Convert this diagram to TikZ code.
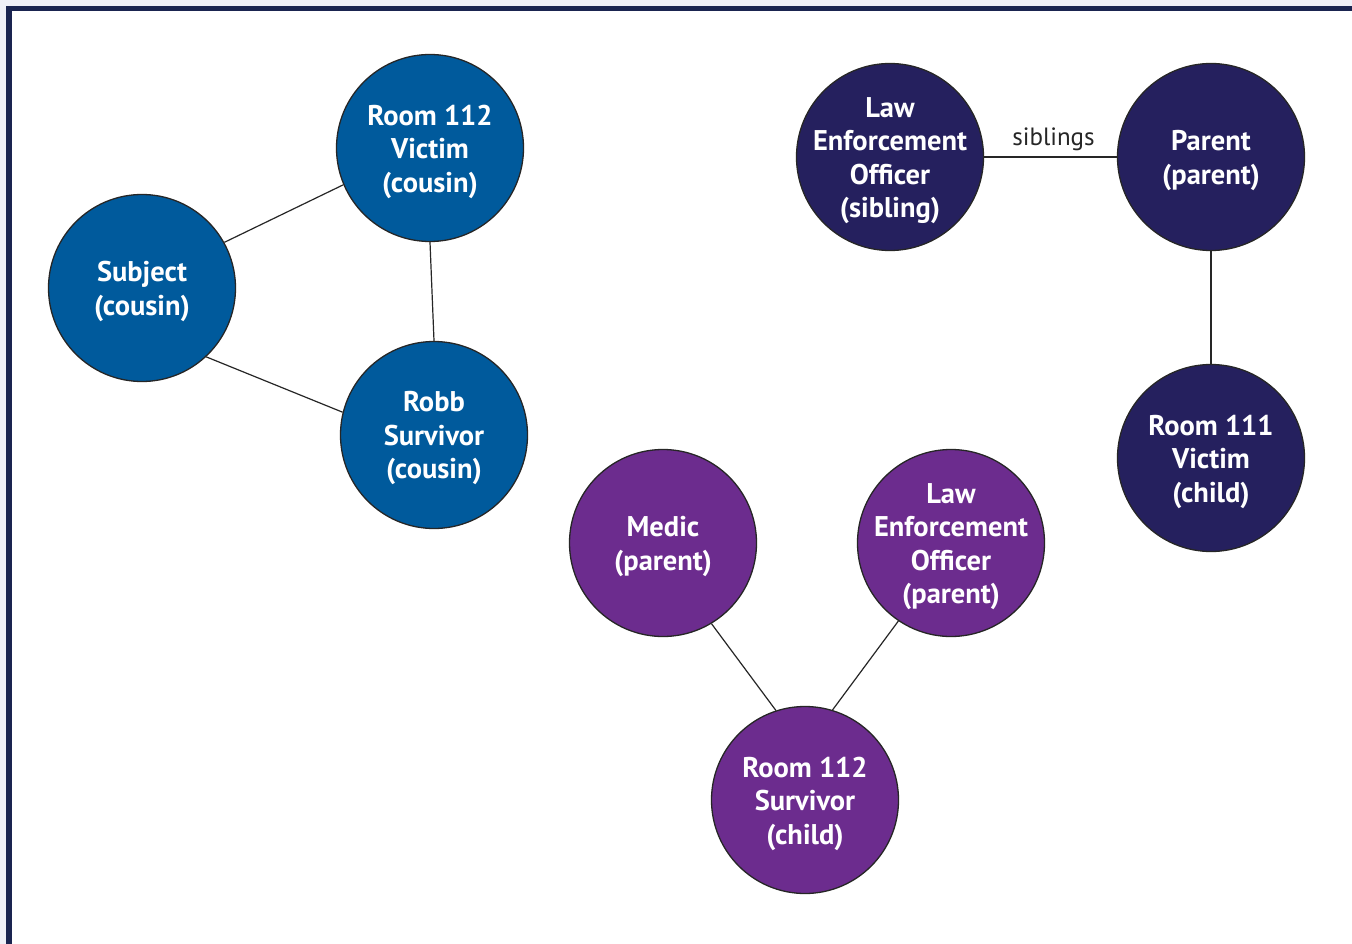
\documentclass[tikz,border=0pt]{standalone}
\usepackage{fontspec}
\setmainfont{PT Sans}
\begin{document}
\begin{tikzpicture}[x=1pt,y=-1pt,
  person/.style={circle,draw=black!85,line width=1.3pt,minimum size=187pt,inner sep=0pt},
  txt/.style={text=white,align=center,inner sep=0pt,yshift=-3.5pt,
    font=\bfseries\fontsize{28.5}{33.5}\selectfont},
  cousin/.style={person,fill=blueA},
  family/.style={person,fill=navyA},
  kin/.style={person,fill=purpA},
  tie/.style={draw=black!85,line width=1.2pt},
  tag/.style={font=\fontsize{25}{28}\selectfont,text=black!85}]
\definecolor{blueA}{RGB}{0,90,156}
\definecolor{navyA}{RGB}{37,32,94}
\definecolor{purpA}{RGB}{108,44,142}
\definecolor{frameA}{RGB}{26,36,80}
\definecolor{bgA}{RGB}{239,240,247}
\useasboundingbox (0,0) rectangle (1352,944);
\begin{scope}
\clip (0,0) rectangle (1352,944);
\fill[bgA] (0,0) rectangle (1352,944);
\draw[frameA,fill=white,line width=5.5pt] (9,8.5) rectangle (1370,970);
\end{scope}
\node[cousin,label={[txt]center:{Room 112\\Victim\\(cousin)}}] (victim) at (430,148) {};
\node[cousin,label={[txt]center:{Subject\\(cousin)}}] (subject) at (142,288) {};
\node[cousin,label={[txt]center:{Robb\\Survivor\\(cousin)}}] (robb) at (434,435) {};
\node[family,label={[txt]center:{Law\\Enforcement\\Officer\\(sibling)}}] (leo1) at (890,157) {};
\node[family,label={[txt]center:{Parent\\(parent)}}] (parent) at (1211,157) {};
\node[family,label={[txt]center:{Room 111\\Victim\\(child)}}] (v111) at (1211,458) {};
\node[kin,label={[txt]center:{Medic\\(parent)}}] (medic) at (663,543) {};
\node[kin,label={[txt]center:{Law\\Enforcement\\Officer\\(parent)}}] (leo2) at (951,543) {};
\node[kin,label={[txt]center:{Room 112\\Survivor\\(child)}}] (surv) at (805,800) {};
\draw[tie] (subject.29) -- (victim.203);
\draw[tie] (subject.-47) -- (robb.166);
\draw[tie] (victim.south) -- (robb.north);
\draw[tie] (leo1) -- node[tag,above=2pt,xshift=3pt] {siblings} (parent);
\draw[tie] (parent) -- (v111);
\draw[tie] (medic.301) -- (surv.108);
\draw[tie] (leo2.236) -- (surv.73);
\end{tikzpicture}
\end{document}
